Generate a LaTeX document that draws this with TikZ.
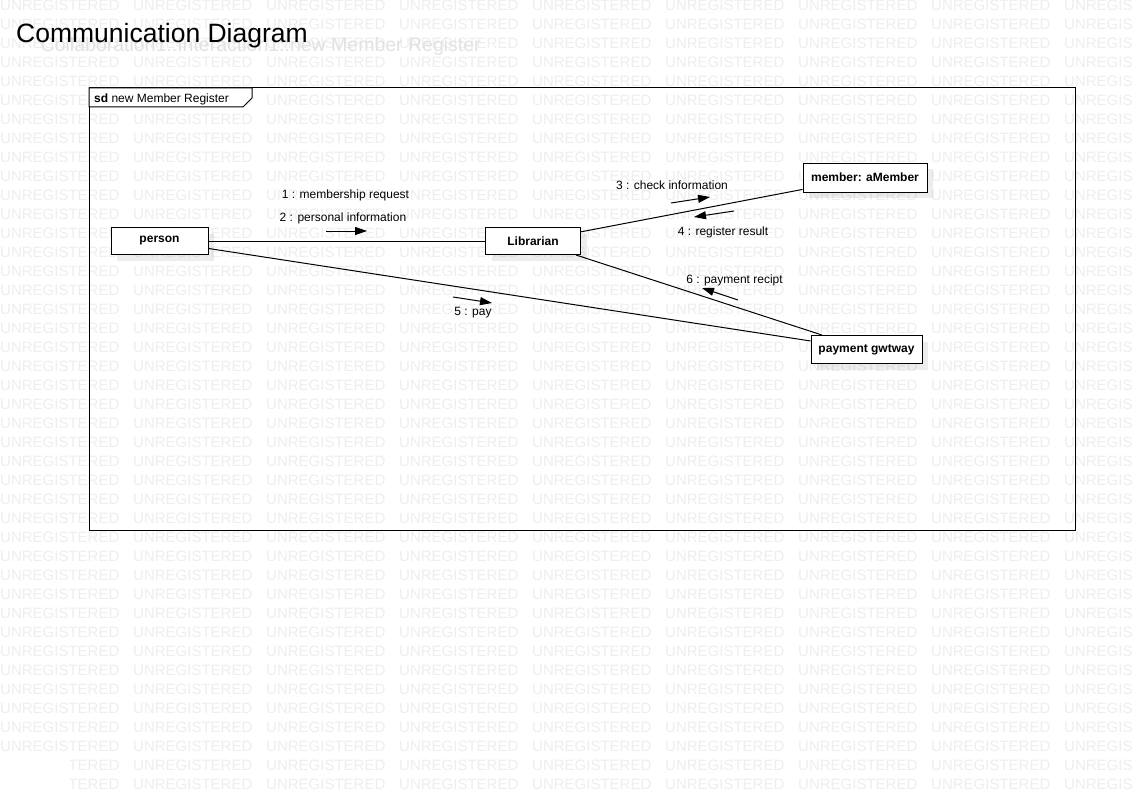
\documentclass[tikz,border=0pt]{standalone}
\usepackage{fontspec}
\setmainfont{Liberation Sans}
\usetikzlibrary{arrows.meta,shadows}
\definecolor{wmgray}{RGB}{238,238,238}
\definecolor{ghostgray}{RGB}{226,226,226}
\tikzset{
  lifebox/.style={draw, fill=white, line width=1pt, minimum height=27pt, inner xsep=7pt,
    font=\fontsize{12}{14}\selectfont\bfseries,
    drop shadow={shadow xshift=6pt, shadow yshift=-6pt, fill=black, opacity=.07}},
  msgarrow/.style={line width=1pt, -{Triangle[length=12pt,width=8pt]}},
  msglabel/.style={font=\fontsize{12}{14}\selectfont, inner sep=0pt, anchor=base},
  wmtext/.style={text=wmgray, font=\fontsize{15}{18}\selectfont, inner sep=0pt, anchor=base west},
}
\begin{document}
\begin{tikzpicture}[x=1pt, y=-1pt]
  \useasboundingbox[fill=white] (0,0) rectangle (1132,797);
  \foreach \r in {0,...,41}
    \foreach \c in {0,...,8}{
      \ifnum\r>39 \ifnum\c=0 \else
        \node[wmtext] (wm-\r-\c) at (\c*133, 10.5+\r*19) {UNREGISTERED};
      \fi\else
        \node[wmtext] (wm-\r-\c) at (\c*133, 10.5+\r*19) {UNREGISTERED};
      \fi}
  \begin{scope}
    \clip (70,755) rectangle (133,797);
    \node[wmtext] (wm-40-0) at (0, 770.5) {UNREGISTERED};
    \node[wmtext] (wm-41-0) at (0, 789.5) {UNREGISTERED};
  \end{scope}
  \node[anchor=base east, text=ghostgray, font=\fontsize{19.5}{22}\selectfont, inner sep=0pt] (ghost) at (481,52) {Collaboration1::Interaction1::new Member Register};
  \node[anchor=base west, font=\fontsize{26.5}{30}\selectfont, inner sep=0pt] (title) at (16,43) {Communication Diagram};

  \draw[line width=1pt] (89,88) rectangle (1075,530);
  \draw[line width=1pt, fill=white] (89,88) -- (252,88) -- (252,98) -- (243,107) -- (89,107) -- cycle;
  \node[font=\fontsize{12}{14}\selectfont, inner sep=0pt, anchor=base west] (frametag) at (94,103) {\textbf{sd} new Member Register};

  \node[lifebox, minimum width=97pt] (person) at (159.5,241) {person};
  \node[lifebox, minimum width=95pt] (librarian) at (533,241) {Librarian};
  \node[lifebox, minimum width=124pt, minimum height=29pt] (member) at (865,177.5) {member: aMember};
  \node[lifebox, minimum width=111pt, minimum height=28pt] (gateway) at (866.5,349.5) {payment gwtway};

  \draw[line width=1pt] (person) -- (librarian);
  \draw[line width=1pt] (person) -- (gateway);
  \draw[line width=1pt] (librarian) -- (member);
  \draw[line width=1pt] (librarian) -- (gateway);

  \coordinate (a12s) at (326,231);
  \coordinate (a12e) at (367,231);
  \coordinate (a3s) at (671,203);
  \coordinate (a3e) at (710,197);
  \coordinate (a4s) at (734,211);
  \coordinate (a4e) at (694,217);
  \coordinate (a5s) at (453,297);
  \coordinate (a5e) at (492,303);
  \coordinate (a6s) at (738,300);
  \coordinate (a6e) at (702,288);
  \draw[msgarrow] (a12s) -- (a12e);
  \draw[msgarrow] (a3s) -- (a3e);
  \draw[msgarrow] (a4s) -- (a4e);
  \draw[msgarrow] (a5s) -- (a5e);
  \draw[msgarrow] (a6s) -- (a6e);

  \node[msglabel] (m1) at (345.5,198) {1 : membership request};
  \node[msglabel] (m2) at (343,221) {2 : personal information};
  \node[msglabel] (m3) at (672,189) {3 : check information};
  \node[msglabel] (m4) at (723,235) {4 : register result};
  \node[msglabel] (m5) at (473,315) {5 : pay};
  \node[msglabel] (m6) at (734.5,283) {6 : payment recipt};
\end{tikzpicture}
\end{document}
